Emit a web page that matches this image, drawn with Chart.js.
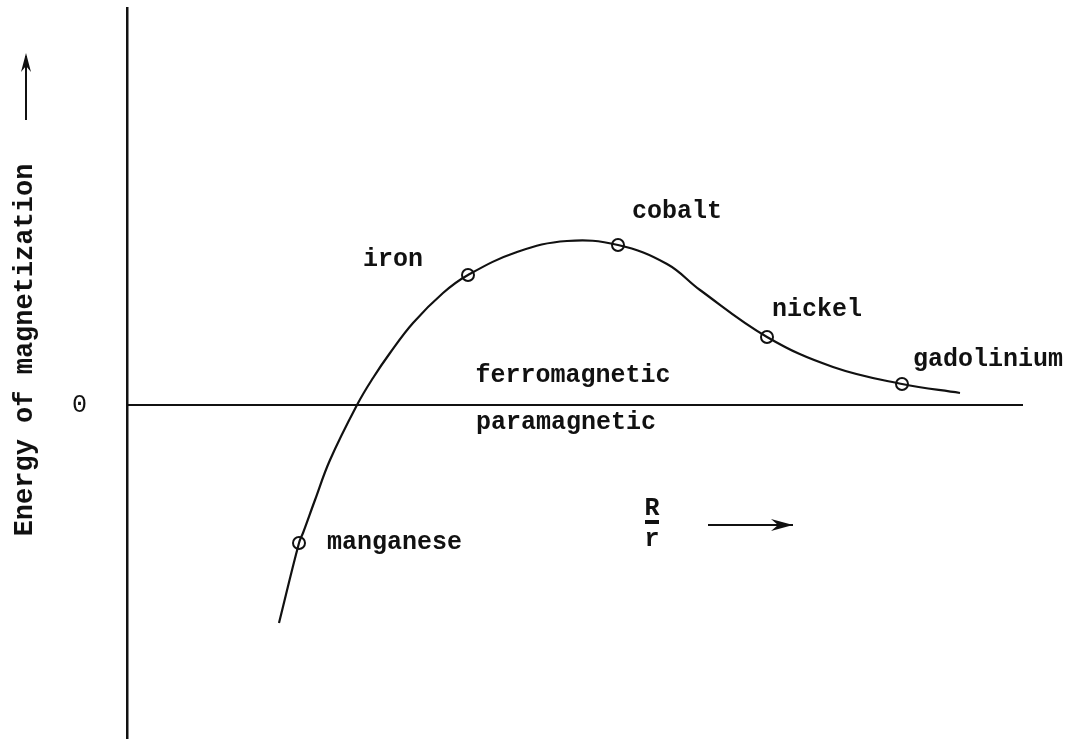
<!DOCTYPE html>
<html>
<head>
<meta charset="utf-8">
<script src="https://cdn.jsdelivr.net/npm/chart.js@4.4.1/dist/chart.umd.min.js"></script>
<style>
  html, body { margin: 0; padding: 0; background: #fff; }
  canvas { display: block; }
</style>
</head>
<body>
<canvas id="plot" width="1078" height="739"></canvas>
<script>
// curve (x = R/r in arbitrary units, y = energy)
const curveX = [1.52, 1.72, 1.76, 1.88, 2.03, 2.30, 2.46, 2.63, 2.86, 3.16, 3.41, 3.90, 4.40, 4.91, 5.40, 5.73, 6.40, 7.06, 7.75, 8.33];
const curveY = [-2.18, -1.38, -1.28, -0.95, -0.55, 0.00, 0.27, 0.52, 0.82, 1.12, 1.30, 1.53, 1.64, 1.60, 1.41, 1.15, 0.68, 0.38, 0.21, 0.12];

const elementNames = ["manganese", "iron", "cobalt", "nickel", "gadolinium"];
const elementX = [1.72, 3.41, 4.91, 6.40, 7.75];
const elementY = [-1.38, 1.30, 1.60, 0.68, 0.21];

const regionNames = ["ferromagnetic", "paramagnetic"];
const regionX = [4.46, 4.39];
const regionY = [0.29, -0.18];

const yTickValues = [0];
const xRange = [0, 8.96];
const yRange = [-3.34, 3.97];

const FONT = "'Liberation Mono', 'Courier New', monospace";
const ink = "#111";

// label offsets (px) from each element's point
const elementLabelOffset = {
  manganese:  { dx: 28,  dy: 0,   align: "left" },
  iron:       { dx: -45, dy: -15, align: "right" },
  cobalt:     { dx: 14,  dy: -33, align: "left" },
  nickel:     { dx: 5,   dy: -27, align: "left" },
  gadolinium: { dx: 11,  dy: -24, align: "left" }
};

const notes = {
  id: "notes",
  afterDatasetsDraw(chart) {
    const ctx = chart.ctx;
    const xs = chart.scales.x, ys = chart.scales.y;
    ctx.save();
    ctx.fillStyle = ink;
    ctx.strokeStyle = ink;
    ctx.font = "bold 25px " + FONT;
    ctx.textBaseline = "middle";

    elementNames.forEach((name, i) => {
      const o = elementLabelOffset[name];
      ctx.textAlign = o.align;
      ctx.fillText(name, xs.getPixelForValue(elementX[i]) + o.dx, ys.getPixelForValue(elementY[i]) + o.dy);
    });

    ctx.textAlign = "center";
    regionNames.forEach((name, i) => {
      ctx.fillText(name, xs.getPixelForValue(regionX[i]), ys.getPixelForValue(regionY[i]));
    });

    // R/r with arrow
    const rx = xs.getPixelForValue(5.25), ry = ys.getPixelForValue(-1.19);
    ctx.fillText("R", rx, ry - 15);
    ctx.fillText("r", rx, ry + 16);
    ctx.lineWidth = 4;
    ctx.beginPath();
    ctx.moveTo(rx - 7, ry - 2);
    ctx.lineTo(rx + 7, ry - 2);
    ctx.stroke();

    const ax0 = xs.getPixelForValue(5.81), ax1 = xs.getPixelForValue(6.66), ay = ys.getPixelForValue(-1.20);
    ctx.lineWidth = 2;
    ctx.beginPath();
    ctx.moveTo(ax0, ay);
    ctx.lineTo(ax1, ay);
    ctx.stroke();
    ctx.beginPath();
    ctx.moveTo(ax1, ay);
    ctx.lineTo(ax1 - 22, ay - 6);
    ctx.lineTo(ax1 - 15, ay);
    ctx.lineTo(ax1 - 22, ay + 6);
    ctx.closePath();
    ctx.fill();

    // y axis title with upward arrow
    const tx = 25, tyc = 350;
    ctx.save();
    ctx.translate(tx, tyc);
    ctx.rotate(-Math.PI / 2);
    ctx.textAlign = "center";
    ctx.font = "bold 27px " + FONT;
    ctx.fillText("Energy of magnetization", 0, 0);
    ctx.restore();
    ctx.lineWidth = 2;
    ctx.beginPath();
    ctx.moveTo(tx + 1, 120);
    ctx.lineTo(tx + 1, 56);
    ctx.stroke();
    ctx.beginPath();
    ctx.moveTo(tx + 1, 53);
    ctx.lineTo(tx - 4, 72);
    ctx.lineTo(tx + 1, 66);
    ctx.lineTo(tx + 6, 72);
    ctx.closePath();
    ctx.fill();
    ctx.restore();
  }
};

new Chart(document.getElementById("plot"), {
  type: "line",
  data: {
    datasets: [
      {
        label: "baseline",
        data: [{ x: xRange[0], y: 0 }, { x: xRange[1], y: 0 }],
        borderColor: ink,
        borderWidth: 2,
        pointRadius: 0
      },
      {
        label: "curve",
        data: curveX.map((x, i) => ({ x: x, y: curveY[i] })),
        borderColor: ink,
        borderWidth: 2.2,
        pointRadius: 0,
        tension: 0.4
      },
      {
        label: "elements",
        data: elementX.map((x, i) => ({ x: x, y: elementY[i] })),
        showLine: false,
        pointRadius: 6,
        pointBorderWidth: 2,
        pointBorderColor: ink,
        pointBackgroundColor: "rgba(0,0,0,0)"
      }
    ]
  },
  options: {
    responsive: false,
    animation: false,
    layout: { autoPadding: false, padding: { top: 8, right: 55, bottom: 0, left: 0 } },
    plugins: {
      legend: { display: false },
      tooltip: { enabled: false }
    },
    scales: {
      x: {
        type: "linear",
        min: xRange[0],
        max: xRange[1],
        display: false
      },
      y: {
        type: "linear",
        min: yRange[0],
        max: yRange[1],
        afterFit(scale) {
          scale.width = 127;
          scale.paddingTop = 0;
          scale.paddingBottom = 0;
        },
        afterBuildTicks(scale) { scale.ticks = yTickValues.map(v => ({ value: v })); },
        grid: { display: false, drawTicks: false },
        border: { display: true, color: ink, width: 2.5 },
        ticks: {
          padding: 40,
          color: ink,
          font: { family: FONT, size: 25 },
          callback: v => String(v)
        }
      }
    }
  },
  plugins: [notes]
});
</script>
</body>
</html>
